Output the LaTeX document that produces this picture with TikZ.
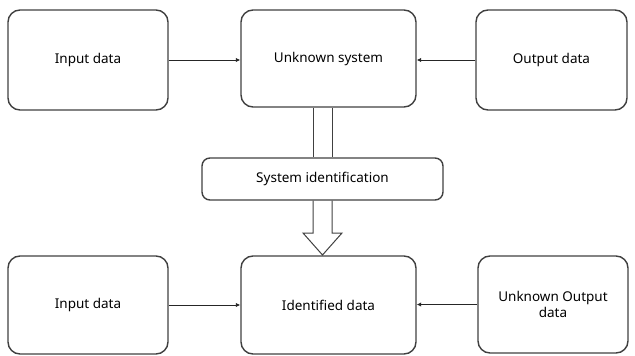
\documentclass[tikz,border=0pt]{standalone}
\usepackage{fontspec}
\setmainfont{Noto Sans}
\usetikzlibrary{arrows.meta,calc}
\begin{document}
\begin{tikzpicture}[x=1pt,y=-1pt,
  box/.style={draw=black!75,line width=1.4pt,rounded corners=12pt,inner sep=2pt,align=center,font=\fontsize{13.5}{16}\selectfont},
  conn/.style={draw=black!85,line width=1pt,-{Latex[length=4.5pt,width=4.5pt]}},
  fat/.style={draw=black!75,line width=1pt}]
\useasboundingbox (0,0) rectangle (635,356);
\node[box,minimum width=160pt,minimum height=100pt] (in1) at (88,60) {Input data};
\node[box,minimum width=175pt,minimum height=97pt] (us) at (328.5,58.5) {Unknown system};
\node[box,minimum width=151pt,minimum height=100pt] (out1) at (551.5,60) {Output data};
\node[box,rounded corners=8pt,minimum width=241pt,minimum height=42pt] (sid) at (322.5,179) {System identification};
\node[box,minimum width=160pt,minimum height=98pt] (in2) at (88,305) {Input data};
\node[box,minimum width=175pt,minimum height=98pt] (ids) at (328.5,305) {Identified data};
\node[box,minimum width=150pt,minimum height=97pt] (uo) at (553,304.5) {Unknown Output\\data};
\draw[conn] (in1.east) -- (in1.east -| us.west);
\draw[conn] (out1.west) -- (out1.west -| us.east);
\draw[conn] (in2.east) -- (in2.east -| ids.west);
\draw[conn] (uo.west) -- (uo.west -| ids.east);
% double link from system to identification
\coordinate (l1) at (313,0);
\coordinate (l2) at (332,0);
\draw[fat] (l1 |- us.south) -- (l1 |- sid.north);
\draw[fat] (l2 |- us.south) -- (l2 |- sid.north);
% hollow block arrow
\coordinate (tip) at (322.5,255);
\draw[fat,line join=miter] (l1 |- sid.south) -- (313,233) -- (303,233) -- (tip) -- (342,233) -- (332,233) -- (l2 |- sid.south);
\end{tikzpicture}
\end{document}
